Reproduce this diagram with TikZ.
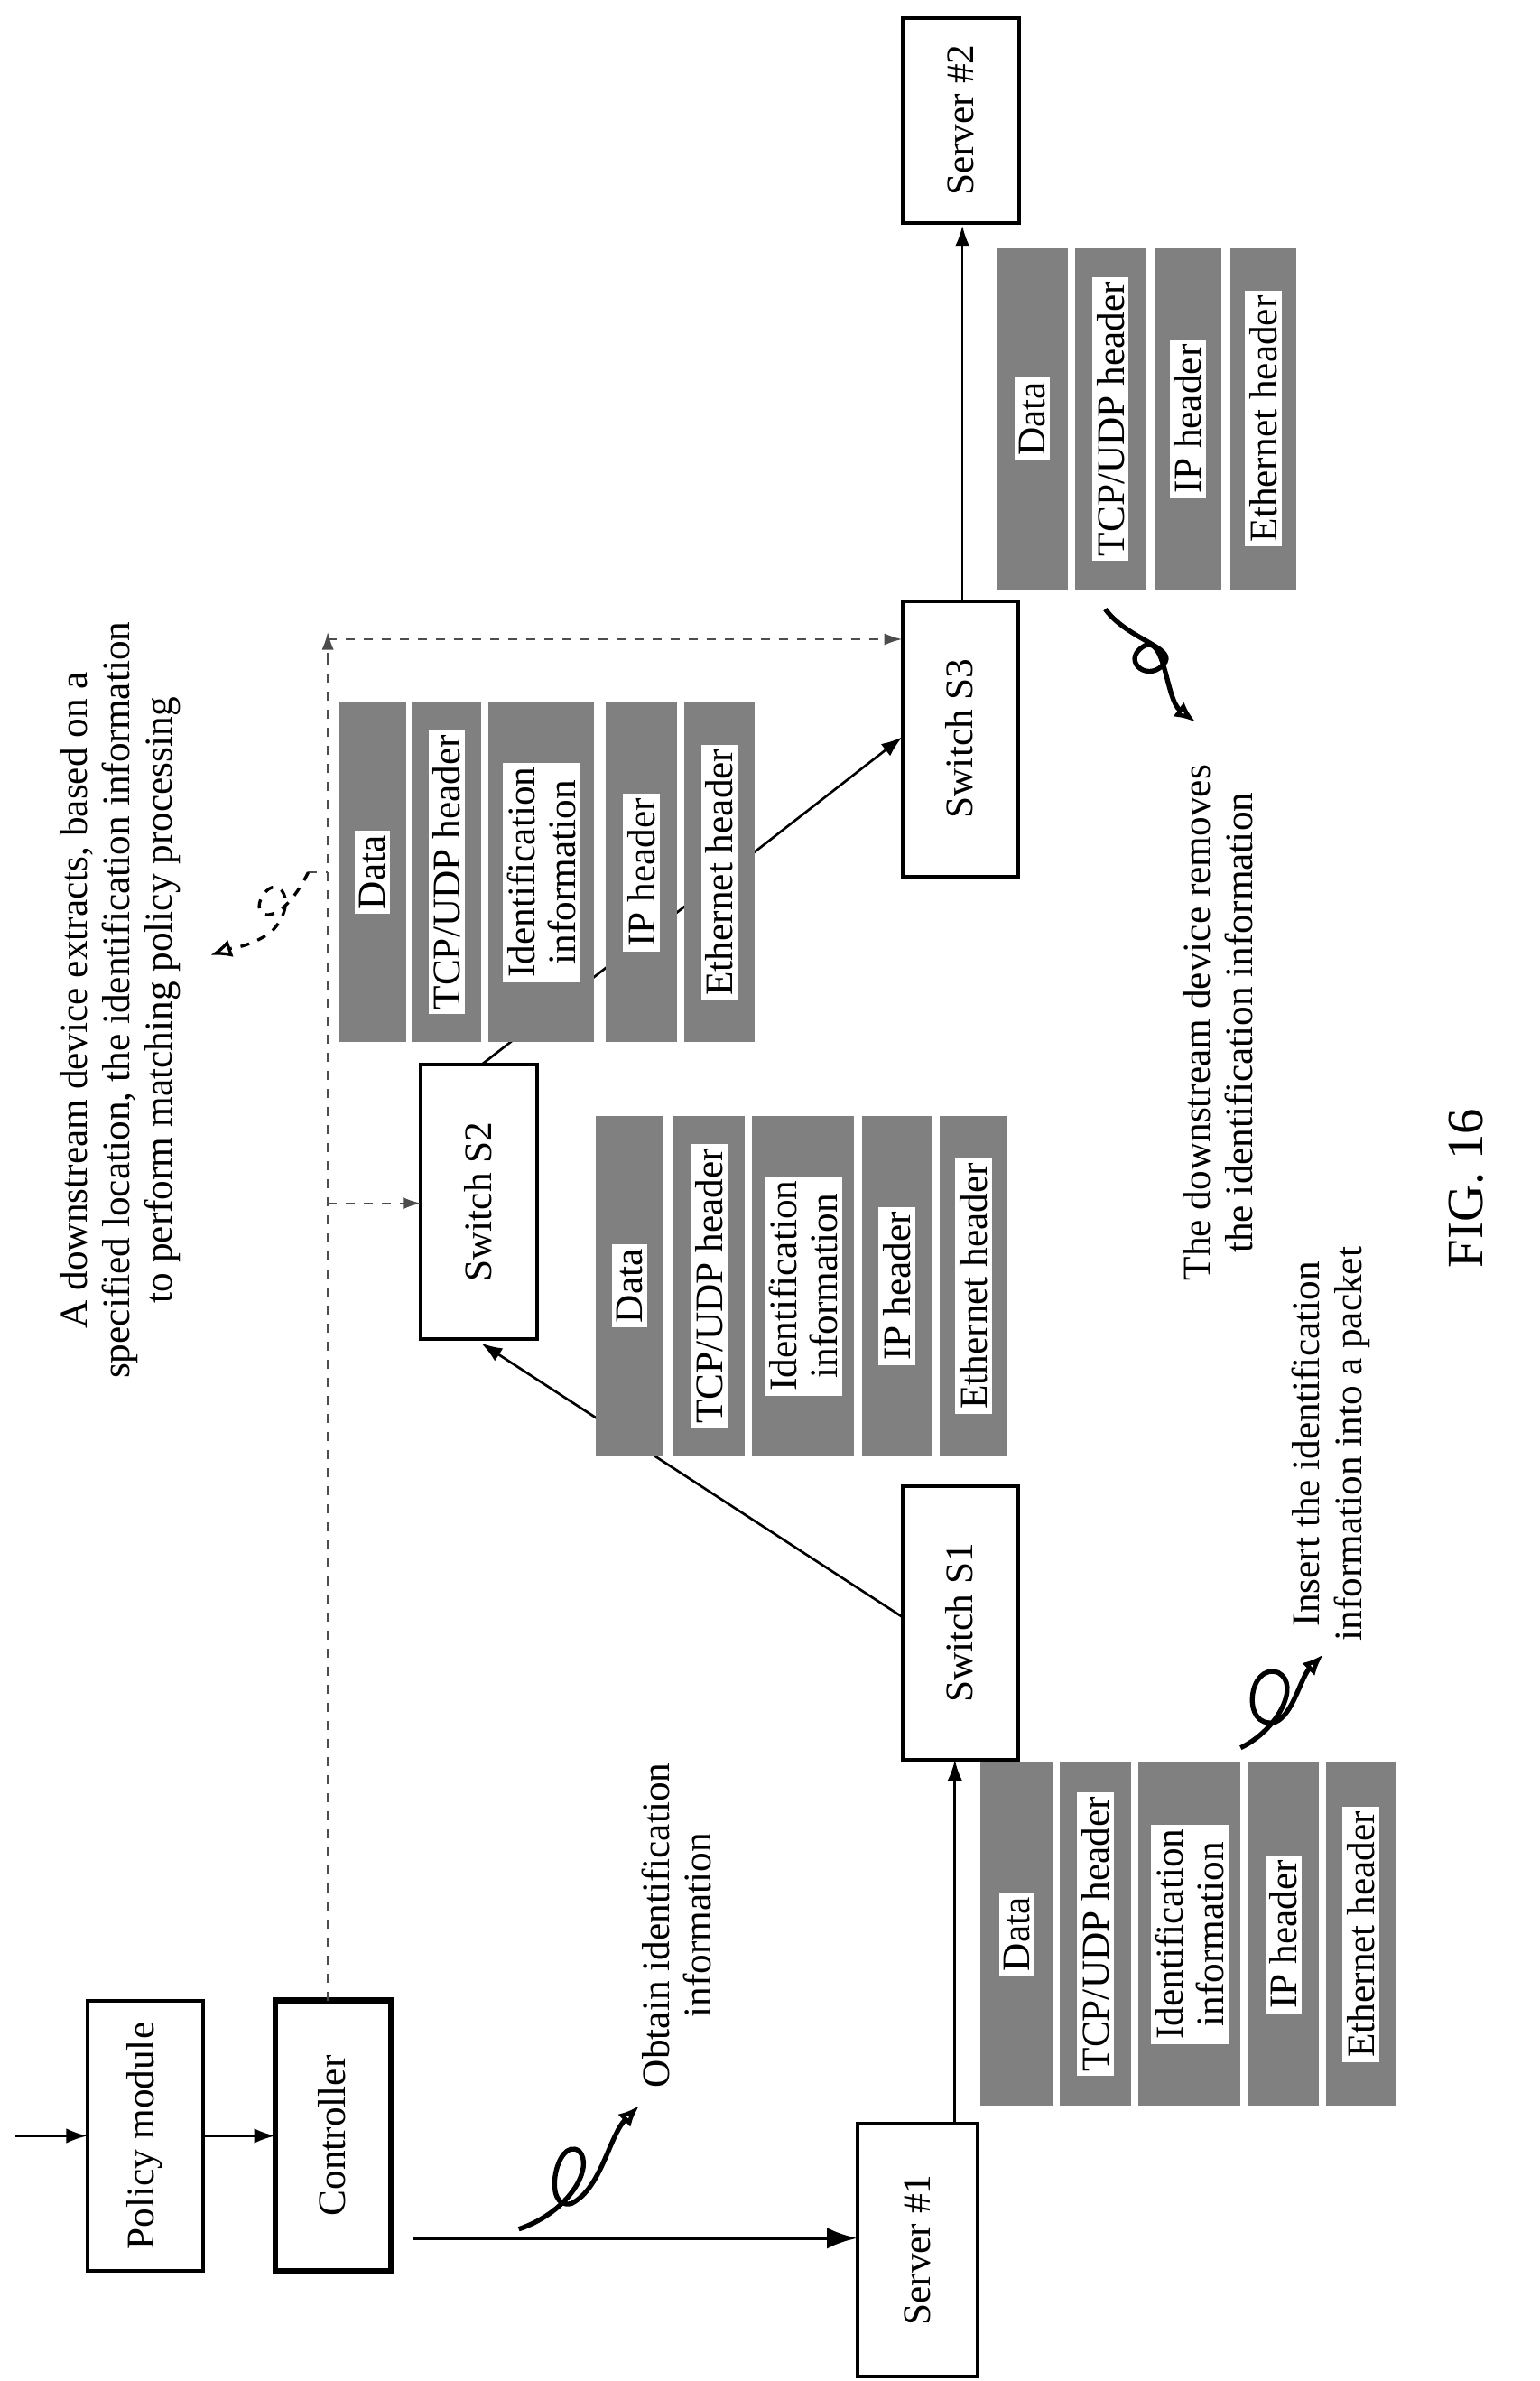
\documentclass[tikz,border=0pt]{standalone}
\usepackage{fontspec}
\setmainfont{Liberation Serif}
\usetikzlibrary{arrows.meta}
\begin{document}
\begin{tikzpicture}[x=0.5pt,y=-0.5pt,font=\fontsize{13}{14}\selectfont,
  box/.style={draw,line width=1.2pt},
  lbl/.style={rotate=90,align=center,inner sep=0pt},
  plab/.style={rotate=90,fill=white,align=center,inner sep=1.5pt,font=\fontsize{13}{13.5}\selectfont},
  arr/.style={-{Latex[length=7pt,width=5pt]},line width=0.8pt},
  dsh/.style={dashed,gray!60!black,line width=0.7pt,-{Latex[length=6pt,width=4pt]}},
  sq/.style={line width=1.6pt,-{Latex[open,length=7pt,width=6pt]}}]
\useasboundingbox (0,0) rectangle (1024,1583);
\newcommand\pc[6]{\fill[gray] (#1,#3) rectangle (#2,#4);
  \node[plab] (#6) at ({(#1+#2)/2},{(#3+#4)/2}) {#5};}
% boxes
\draw[box] (58,1330) rectangle (135,1510); \node[lbl] (pm) at (96,1420) {Policy module};
\draw[box,line width=2pt] (183,1330) rectangle (260,1510); \node[lbl] (ct) at (221,1420) {Controller};
\draw[box] (570,1412) rectangle (650,1580); \node[lbl] (sv1) at (610,1496) {Server \#1};
\draw[box] (600,988) rectangle (677,1170); \node[lbl] (s1) at (638,1079) {Switch S1};
\draw[box] (280,708) rectangle (357,890); \node[lbl] (s2) at (318,799) {Switch S2};
\draw[box] (600,400) rectangle (677,583); \node[lbl] (s3) at (638,491) {Switch S3};
\draw[box] (600,12) rectangle (678,148); \node[lbl] (sv2) at (639,80) {Server \#2};
% arrows
\coordinate (in0) at (10,1420);
\draw[arr] (in0) -- (58,1420);
\draw[arr] (135,1420) -- (183,1420);
\draw[-{Latex[length=10pt,width=7pt]},line width=1.2pt] (275,1488) -- (570,1488);
\draw[arr] (635,1412) -- (635,1170);
\draw[arr] (600,1075) -- (320,893);
\draw[arr] (320,708) -- (600,490);
\draw[arr] (640,400) -- (640,150);
% dashed
\draw[dashed,gray!60!black,line width=0.7pt] (218,1330) -- (218,425);
\draw[dsh] (218,440) -- (218,420);
\draw[dsh] (218,425) -- (600,425);
\draw[dsh] (218,800) -- (280,800);
\draw[dashed,gray!60!black,line width=0.7pt] (205,580) -- (218,580);
\draw[dashed,line width=1pt,-{Latex[open,length=7pt,width=6pt]}] (205,580) .. controls (185,620) and (165,610) .. (175,595) .. controls (185,580) and (200,600) .. (180,620) .. controls (165,630) and (155,630) .. (140,635);
% packet stacks
\pc{652}{700}{1172}{1400}{Data}{a1}
\pc{705}{752}{1172}{1400}{TCP/UDP header}{a2}
\pc{757}{825}{1172}{1400}{Identification\\information}{a3}
\pc{830}{877}{1172}{1400}{IP header}{a4}
\pc{882}{928}{1172}{1400}{Ethernet header}{a5}
\pc{396}{441}{742}{968}{Data}{b1}
\pc{448}{495}{742}{968}{TCP/UDP header}{b2}
\pc{500}{568}{742}{968}{Identification\\information}{b3}
\pc{573}{620}{742}{968}{IP header}{b4}
\pc{625}{670}{742}{968}{Ethernet header}{b5}
\pc{225}{270}{467}{693}{Data}{c1}
\pc{274}{320}{467}{693}{TCP/UDP header}{c2}
\pc{325}{395}{467}{693}{Identification\\information}{c3}
\pc{403}{450}{467}{693}{IP header}{c4}
\pc{455}{502}{467}{693}{Ethernet header}{c5}
\pc{663}{710}{165}{392}{Data}{d1}
\pc{715}{762}{165}{392}{TCP/UDP header}{d2}
\pc{768}{812}{165}{392}{IP header}{d3}
\pc{818}{862}{165}{392}{Ethernet header}{d4}
% squiggles
\draw[sq] (345,1482) .. controls (380,1470) and (395,1440) .. (385,1430) .. controls (370,1420) and (360,1470) .. (380,1465) .. controls (400,1455) and (405,1420) .. (425,1400);
\draw[sq] (825,1162) .. controls (850,1150) and (865,1120) .. (850,1112) .. controls (830,1105) and (825,1150) .. (848,1145) .. controls (860,1140) and (865,1115) .. (880,1100);
\draw[sq] (735,405) .. controls (750,425) and (780,430) .. (775,440) .. controls (765,455) and (745,440) .. (760,430) .. controls (775,420) and (775,465) .. (795,480);
% texts
\node[lbl] (t1) at (80,665) {A downstream device extracts, based on a\\specified location, the identification information\\to perform matching policy processing};
\node[lbl] (t2) at (450,1280) {Obtain identification\\information};
\node[lbl] (t3) at (810,680) {The downstream device removes\\the identification information};
\node[lbl] (t4) at (885,960) {Insert the identification\\information into a packet};
\node[lbl,font=\fontsize{17}{18}\selectfont] (fig) at (975,790) {FIG. 16};
\end{tikzpicture}
\end{document}
